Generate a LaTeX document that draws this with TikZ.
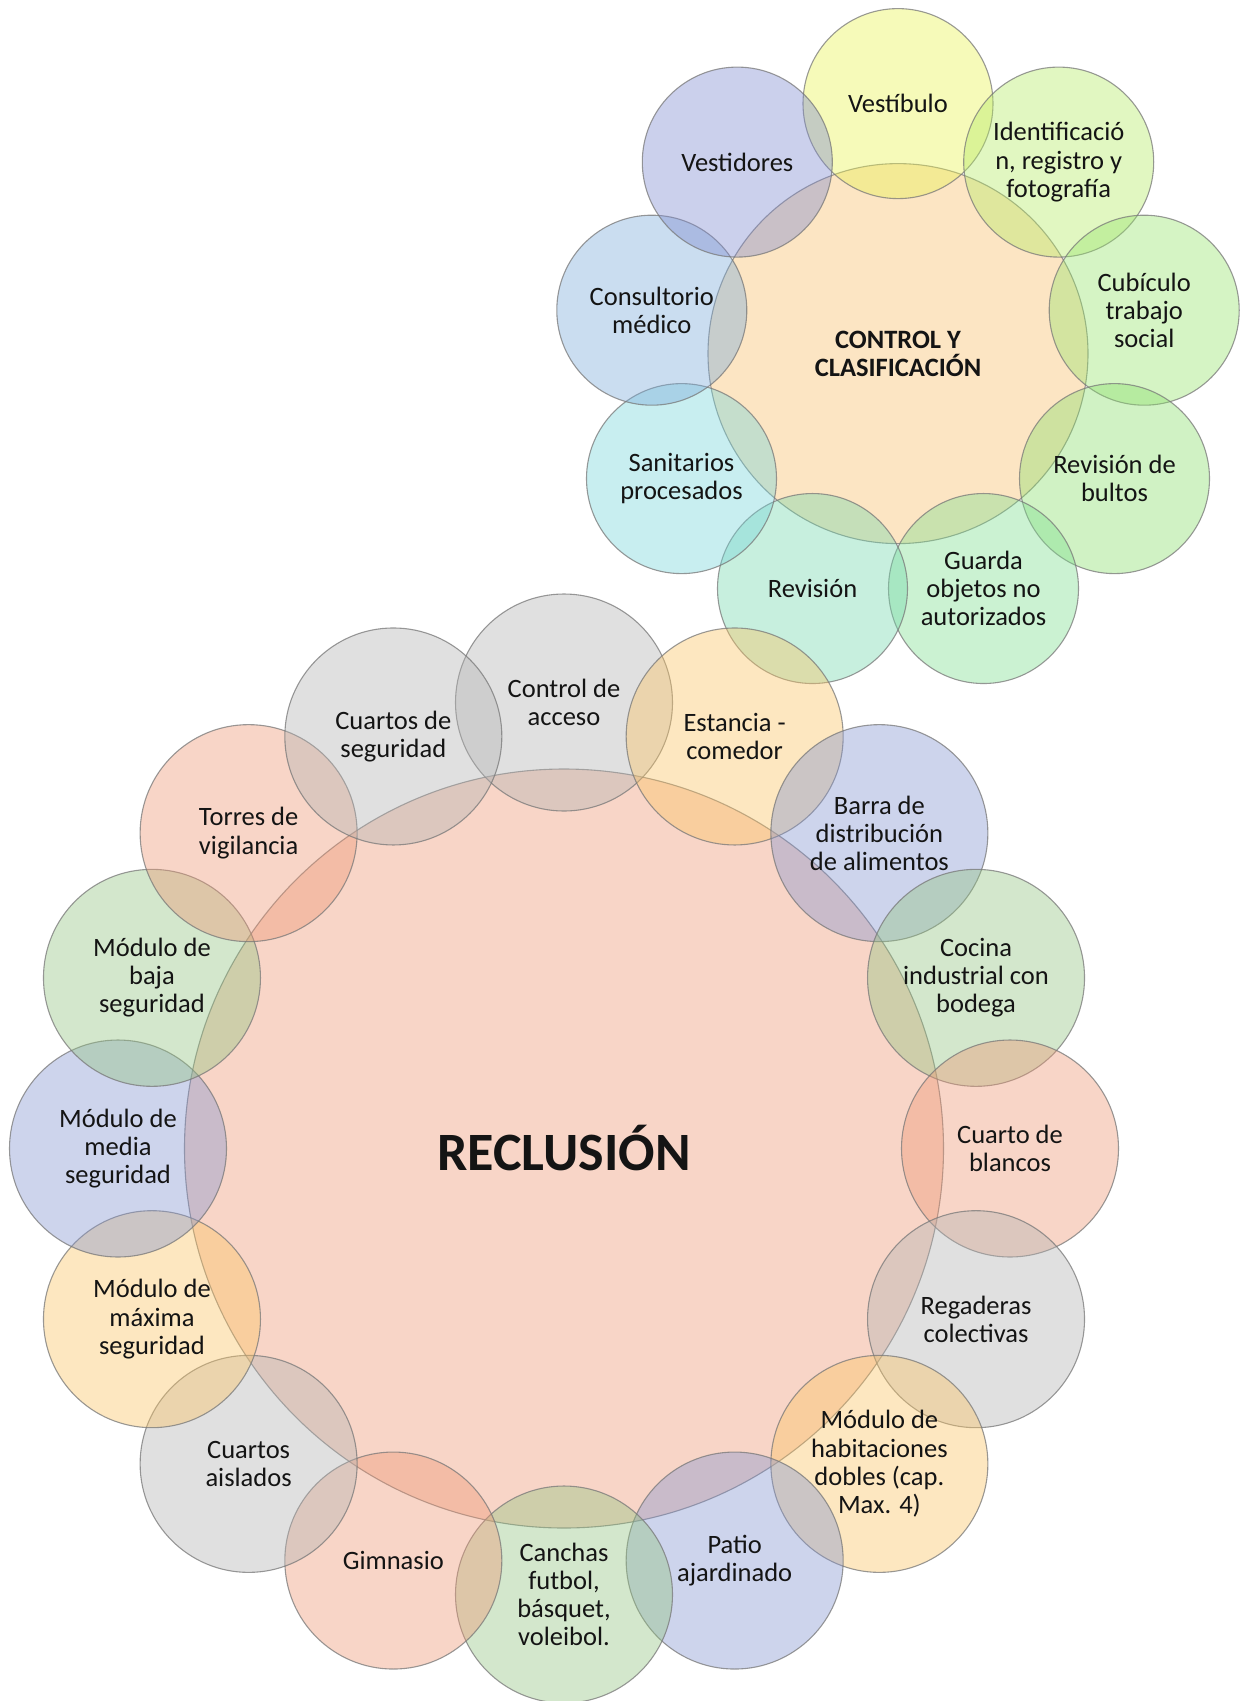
\documentclass[tikz,border=0pt]{standalone}
\usepackage{fontspec}
\setmainfont{Carlito}
\definecolor{gGray}{RGB}{178,178,178}
\definecolor{gOrange}{RGB}{250,195,97}
\definecolor{gBlue}{RGB}{130,147,207}
\definecolor{gGreen}{RGB}{145,195,127}
\definecolor{gSalmon}{RGB}{237,150,115}
\definecolor{tCenter}{RGB}{247,190,105}
\definecolor{tA}{RGB}{232,242,80}
\definecolor{tB}{RGB}{180,235,100}
\definecolor{tC}{RGB}{150,228,108}
\definecolor{tD}{RGB}{137,222,107}
\definecolor{tE}{RGB}{125,222,142}
\definecolor{tF}{RGB}{115,215,172}
\definecolor{tG}{RGB}{117,212,217}
\definecolor{tH}{RGB}{122,170,217}
\definecolor{tI}{RGB}{125,137,207}
\definecolor{edge}{RGB}{120,120,120}
\begin{document}
\begin{tikzpicture}[x=1pt,y=-1pt,
  bub/.style={circle, draw=edge, draw opacity=0.75, line width=1.1pt,
    fill opacity=0.4, text opacity=1, minimum size=#1, inner sep=0pt,
    align=center, text=black!92, font=\fontsize{26.5}{28.2}\selectfont}]
\useasboundingbox (0,0) rectangle (1244,1701);
% top cluster
\node[bub=380, fill=tCenter] (ctrl) at (898,353.6) {\bfseries CONTROL Y\\\bfseries CLASIFICACIÓN};
\foreach \a/\c/\t [count=\i] in {
  90/tA/{Vestíbulo},
  50/tB/{Identificació\\n, registro y\\fotografía},
  10/tC/{Cubículo\\trabajo\\social},
  -30/tD/{Revisión de\\bultos},
  -70/tE/{Guarda\\objetos no\\autorizados},
  -110/tF/{Revisión},
  -150/tG/{Sanitarios\\procesados},
  170/tH/{Consultorio\\médico},
  130/tI/{Vestidores}}
  \node[bub=190, fill=\c] (t\i) at ({898+250*cos(\a)},{353.6-250*sin(\a)}) {\t};
% bottom cluster
\node[bub=759, fill=gSalmon] (recl) at (564,1148.5) {\fontsize{54}{60}\selectfont\bfseries RECLUSIÓN};
\foreach \a/\c/\t [count=\i] in {
  90/gGray/{Control de\\acceso},
  67.5/gOrange/{Estancia -\\comedor},
  45/gBlue/{Barra de\\distribución\\de alimentos},
  22.5/gGreen/{Cocina\\industrial con\\bodega},
  0/gSalmon/{Cuarto de\\blancos},
  -22.5/gGray/{Regaderas\\colectivas},
  -45/gOrange/{Módulo de\\habitaciones\\dobles (cap.\\Max. 4)},
  -67.5/gBlue/{Patio\\ajardinado},
  -90/gGreen/{Canchas\\futbol,\\básquet,\\voleibol.},
  -112.5/gSalmon/{Gimnasio},
  -135/gGray/{Cuartos\\aislados},
  -157.5/gOrange/{Módulo de\\máxima\\seguridad},
  180/gBlue/{Módulo de\\media\\seguridad},
  157.5/gGreen/{Módulo de\\baja\\seguridad},
  135/gSalmon/{Torres de\\vigilancia},
  112.5/gGray/{Cuartos de\\seguridad}}
  \node[bub=217, fill=\c] (r\i) at ({564+446*cos(\a)},{1148.5-446*sin(\a)}) {\t};
\end{tikzpicture}
\end{document}
